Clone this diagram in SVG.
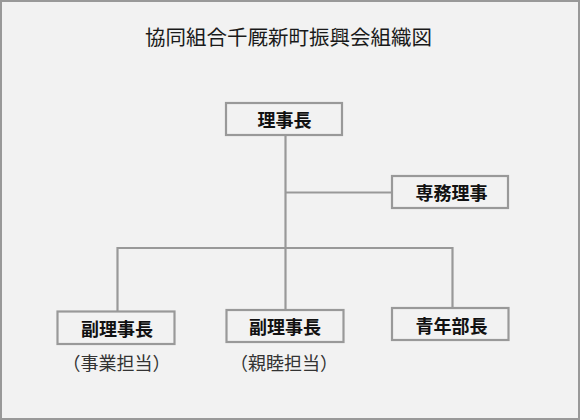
<svg xmlns="http://www.w3.org/2000/svg" width="580" height="420" viewBox="0 0 580 420">
<style>
.bg{fill:#f2f2f2;stroke:#999;stroke-width:2}
.box{fill:#f2f2f2;stroke:#999;stroke-width:2.2}
.lbl{font-family:"Noto Sans CJK JP","Noto Sans",sans-serif;font-size:18px;font-weight:bold;fill:#111;text-anchor:middle;dominant-baseline:central}
.sub{font-family:"Noto Sans CJK JP","Noto Sans",sans-serif;font-size:18px;fill:#333;text-anchor:middle;dominant-baseline:central}
.title{font-family:"Noto Sans CJK JP","Noto Sans",sans-serif;font-size:20.5px;fill:#1a1a1a;text-anchor:middle;dominant-baseline:central}
.ln{fill:none;stroke:#999;stroke-width:2.2}
</style>
<rect class="bg" x="1" y="1" width="578" height="418"/>
<text class="title" x="288.5" y="35.5">協同組合千厩新町振興会組織図</text>
<g id="connectors">
<path class="ln" d="M285.5 135V248"/>
<path class="ln" d="M285.5 192.5H392"/>
<path class="ln" d="M117.5 311V248H452.5V308"/>
<path class="ln" d="M285.5 248V310"/>
</g>
<g id="n-rijicho">
<rect class="box" x="226" y="103" width="116" height="32"/>
<text class="lbl" x="284.5" y="119">理事長</text>
</g>
<g id="n-senmu">
<rect class="box" x="392" y="176" width="116" height="32"/>
<text class="lbl" x="451.5" y="192">専務理事</text>
</g>
<g id="n-fuku1">
<rect class="box" x="57.5" y="311.5" width="117" height="32.5"/>
<text class="lbl" x="117" y="328">副理事長</text>
<text class="sub" x="116.5" y="361.5">（事業担当）</text>
</g>
<g id="n-fuku2">
<rect class="box" x="226.5" y="310" width="117" height="32"/>
<text class="lbl" x="285" y="326">副理事長</text>
<text class="sub" x="284" y="361.5">（親睦担当）</text>
</g>
<g id="n-seinen">
<rect class="box" x="392" y="308" width="116.5" height="32"/>
<text class="lbl" x="451.5" y="324.5">青年部長</text>
</g>
</svg>
